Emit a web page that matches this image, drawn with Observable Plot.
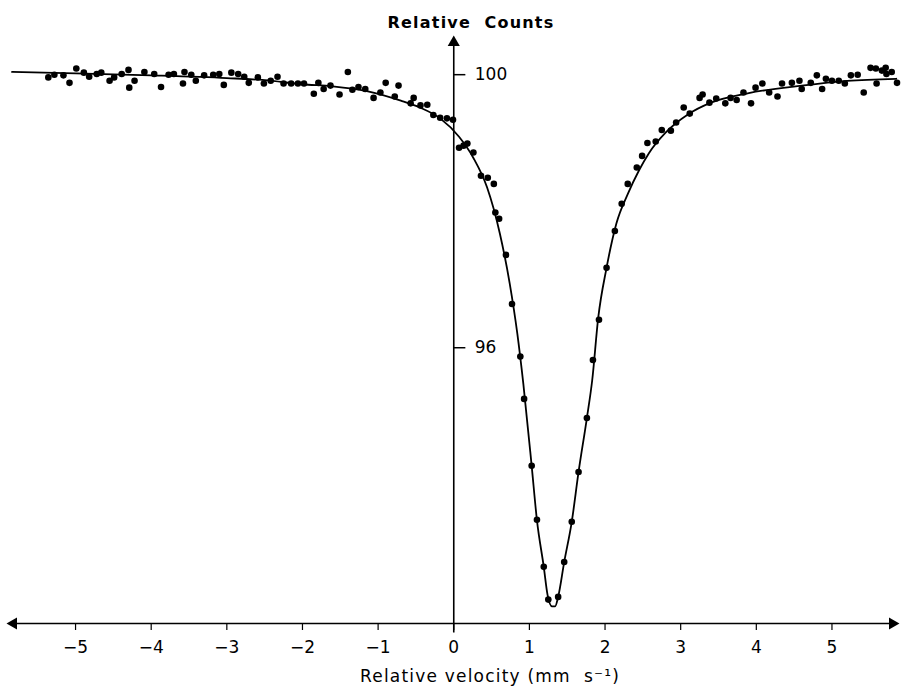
<!DOCTYPE html>
<html><head><meta charset="utf-8">
<script src="https://cdn.jsdelivr.net/npm/d3@7"></script>
<script src="https://cdn.jsdelivr.net/npm/@observablehq/plot@0.6"></script>
<style>body{margin:0;background:#fff} svg text{white-space:pre}</style>
</head><body><div id="chart"></div>
<script>
// measured spectrum points (velocity in mm/s, relative counts)
const velocity = [-5.36,-5.28,-5.16,-5.08,-4.99,-4.89,-4.82,-4.72,-4.66,-4.55,-4.49,-4.39,-4.30,-4.29,-4.22,-4.09,-3.96,-3.87,-3.77,-3.70,-3.58,-3.56,-3.47,-3.41,-3.30,-3.18,-3.10,-3.04,-2.94,-2.85,-2.77,-2.71,-2.59,-2.51,-2.42,-2.33,-2.25,-2.15,-2.06,
-1.98,-1.85,-1.79,-1.72,-1.63,-1.51,-1.40,-1.34,-1.26,-1.17,-1.06,-0.97,-0.90,-0.78,-0.73,-0.57,-0.53,-0.44,-0.35,-0.27,-0.18,-0.09,-0.01,
0.07,0.13,0.18,0.26,0.36,0.45,0.53,0.55,0.60,0.69,0.77,0.88,0.93,1.03,1.10,1.19,1.25,1.38,1.46,1.56,1.65,1.76,1.84,1.92,2.02,2.13,2.22,2.30,2.42,2.49,2.56,2.67,2.75,2.87,2.94,3.04,3.12,3.25,3.29,3.38,3.47,3.59,3.66,3.74,3.83,3.93,3.99,4.08,4.17,4.28,4.34,4.47,4.57,4.60,4.72,4.80,4.87,4.92,5.00,5.09,5.17,5.25,5.34,5.42,5.51,5.58,5.59,5.66,5.71,5.72,5.79,5.86];
const counts = [99.96,100.00,99.99,99.88,100.09,100.03,99.97,100.01,100.03,99.91,99.96,100.01,100.07,99.81,99.91,100.04,100.01,99.82,100.00,100.01,99.87,100.04,100.00,99.91,99.99,100.00,100.01,99.85,100.03,100.01,99.97,99.88,99.96,99.87,99.91,99.97,99.87,99.87,99.87,
99.87,99.72,99.88,99.79,99.84,99.71,100.04,99.78,99.82,99.79,99.66,99.74,99.88,99.68,99.84,99.58,99.66,99.55,99.56,99.41,99.37,99.36,99.34,
98.93,98.96,98.99,98.86,98.52,98.49,98.40,97.98,97.89,97.36,96.64,95.87,95.25,94.27,93.48,92.79,92.31,92.35,92.86,93.45,94.18,94.97,95.82,96.41,97.17,97.71,98.11,98.40,98.64,98.81,99.00,99.02,99.19,99.18,99.30,99.52,99.43,99.66,99.71,99.59,99.65,99.58,99.66,99.63,99.74,99.58,99.81,99.87,99.74,99.68,99.87,99.88,99.91,99.79,99.88,99.99,99.79,99.94,99.91,99.91,99.87,99.99,100.00,99.74,100.10,100.09,99.87,100.06,100.10,100.01,100.04,99.88];

// fitted curve
const fitVelocity = [-5.84,-5,-4,-3,-2.5,-2,-1.6,-1.15,-0.7,-0.45,-0.18,0.07,0.26,0.44,0.61,0.74,0.84,0.92,1.03,1.10,1.19,1.24,1.30,1.34,1.38,1.46,1.56,1.65,1.76,1.83,1.91,2.02,2.15,2.30,2.45,2.58,2.8,3.1,3.4,3.9,4.6,5.2,5.85];
const fitCounts = [100.04,100.02,99.99,99.95,99.92,99.86,99.83,99.76,99.62,99.52,99.36,99.09,98.78,98.35,97.67,96.94,96.21,95.47,94.27,93.47,92.79,92.38,92.21,92.21,92.35,92.86,93.45,94.18,94.97,95.52,96.44,97.17,97.82,98.25,98.6,98.85,99.15,99.42,99.59,99.73,99.84,99.91,99.94];

const xTicks = [-5,-4,-3,-2,-1,0,1,2,3,4,5];
const yTicks = [96, 100];
const xLabel = "Relative velocity (mm\u00a0 s\u207b\u00b9)";
const yLabel = "Relative\u00a0 Counts";

const points = velocity.map((v, i) => ({v, c: counts[i]}));
const fit = fitVelocity.map((v, i) => ({v, c: fitCounts[i]}));
const xMin = -5.86, xMax = 5.84, yMin = 91.96, yMax = 100.53;

const chart = Plot.plot({
  width: 905, height: 688,
  marginLeft: 10, marginRight: 10, marginTop: 38, marginBottom: 65,
  style: {fontFamily: "DejaVu Sans", fontSize: "17px", background: "#fff", color: "#000"},
  x: {domain: [xMin, xMax]},
  y: {domain: [yMin, yMax], axis: null},
  marks: [
    Plot.ruleY([yMin], {stroke: "#000", strokeWidth: 1.6}),
    Plot.axisX(xTicks, {tickSize: 7, tickPadding: 10, fontSize: 17, stroke: "#000", strokeWidth: 1.2, label: null}),
    Plot.ruleX([0], {y1: 91.82, y2: yMax - 0.1, stroke: "#000", strokeWidth: 1.6}),
    Plot.dot([{x: xMin + 0.04, y: yMin, a: -90}, {x: xMax - 0.04, y: yMin, a: 90}, {x: 0, y: yMax - 0.06, a: 0}],
      {x: "x", y: "y", rotate: "a", symbol: "triangle", fill: "#000", stroke: "none", r: 4.5}),
    Plot.ruleY(yTicks, {x1: 0, x2: 0.16, stroke: "#000", strokeWidth: 1.5}),
    Plot.text(yTicks, {x: 0, y: d => d, text: d => String(d), dx: 21, textAnchor: "start", fontSize: 17}),
    Plot.text([yLabel], {frameAnchor: "top", dx: 18, dy: -22, fontSize: 16, fontWeight: "bold"}),
    Plot.text([xLabel], {frameAnchor: "bottom", dx: 37, dy: 58, fontSize: 17}),
    Plot.line(fit, {x: "v", y: "c", curve: "monotone-x", stroke: "#000", strokeWidth: 1.8}),
    Plot.dot(points, {x: "v", y: "c", r: 3.3, fill: "#000", stroke: "none"})
  ]
});
document.getElementById("chart").append(chart);
d3.select(chart).selectAll("text").filter(function(){ const t = this.textContent; return t === yLabel || t === xLabel; })
  .attr("letter-spacing", "1.2");
</script>
</body></html>
